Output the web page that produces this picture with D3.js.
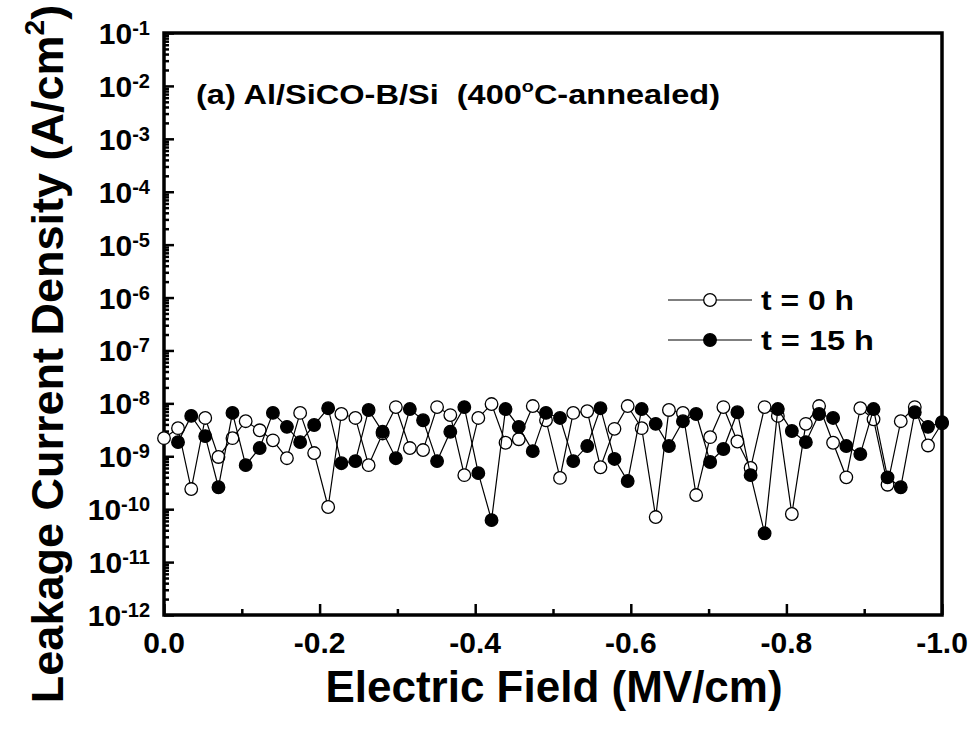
<!DOCTYPE html>
<html>
<head>
<meta charset="utf-8">
<script src="https://cdn.jsdelivr.net/npm/d3@7"></script>
<style>
  body { margin: 0; background: #fff; }
  svg { display: block; font-family: "Liberation Sans", Arial, sans-serif; font-weight: bold; }
</style>
</head>
<body>
<svg id="chart" width="977" height="731"></svg>
<script>
// Electric field (MV/cm) of each measurement step
const fields = [0, -0.018, -0.035, -0.053, -0.070, -0.088, -0.105, -0.123, -0.140, -0.158,
  -0.175, -0.193, -0.211, -0.228, -0.246, -0.263, -0.281, -0.298, -0.316, -0.333,
  -0.351, -0.368, -0.386, -0.404, -0.421, -0.439, -0.456, -0.474, -0.491, -0.509,
  -0.526, -0.544, -0.561, -0.579, -0.596, -0.614, -0.632, -0.649, -0.667, -0.684,
  -0.702, -0.719, -0.737, -0.754, -0.772, -0.789, -0.807, -0.825, -0.842, -0.860,
  -0.877, -0.895, -0.912, -0.930, -0.947, -0.965, -0.982, -1.000];

// Leakage current density (A/cm^2), t = 0 h
const jInitial = [2.2e-9, 3.4e-9, 2.4e-10, 5.3e-9, 9.7e-10, 2.2e-9, 4.6e-9, 3.1e-9, 2.0e-9, 9.2e-10,
  6.6e-9, 1.15e-9, 1.1e-10, 6.3e-9, 5.3e-9, 6.8e-10, 2.7e-9, 8.5e-9, 1.43e-9, 1.31e-9,
  8.5e-9, 6.0e-9, 4.4e-10, 5.3e-9, 9.7e-9, 1.8e-9, 2.1e-9, 8.9e-9, 4.8e-9, 3.9e-10,
  6.6e-9, 7.1e-9, 6.2e-10, 3.3e-9, 8.9e-9, 3.4e-9, 7.1e-11, 7.5e-9, 6.6e-9, 1.85e-10,
  2.3e-9, 8.5e-9, 1.9e-9, 6.0e-10, 8.5e-9, 5.8e-9, 8.1e-11, 4.1e-9, 8.9e-9, 1.8e-9,
  4.0e-10, 8.1e-9, 5.0e-9, 2.9e-10, 4.6e-9, 8.5e-9, 1.6e-9, 4.2e-9];

// Leakage current density (A/cm^2), t = 15 h (no reading at 0 MV/cm)
const jAged = [null, 1.85e-9, 5.8e-9, 2.4e-9, 2.6e-10, 6.6e-9, 6.8e-10, 1.43e-9, 6.6e-9, 3.6e-9,
  1.85e-9, 3.9e-9, 8.1e-9, 7.4e-10, 8.1e-10, 7.5e-9, 2.9e-9, 9.2e-10, 7.8e-9, 4.8e-9,
  8.1e-10, 2.9e-9, 8.5e-9, 4.8e-10, 6.2e-11, 7.8e-9, 3.6e-9, 1.25e-9, 6.6e-9, 5.3e-9,
  8.1e-10, 1.56e-9, 8.1e-9, 8.9e-10, 3.4e-10, 7.8e-9, 4.1e-9, 1.56e-9, 4.6e-9, 6.3e-9,
  7.8e-10, 1.37e-9, 6.8e-9, 4.4e-10, 3.5e-11, 7.8e-9, 3.0e-9, 1.85e-9, 6.3e-9, 5.3e-9,
  1.56e-9, 1.1e-9, 7.8e-9, 4.0e-10, 2.6e-10, 6.8e-9, 3.6e-9, 4.4e-9];

const seriesNames = ["t = 0 h", "t = 15 h"];
const yExponents = [-1, -2, -3, -4, -5, -6, -7, -8, -9, -10, -11, -12];
const xMajorTicks = [0, -0.2, -0.4, -0.6, -0.8, -1.0];
const xMajorLabels = ["0.0", "-0.2", "-0.4", "-0.6", "-0.8", "-1.0"];
const xMinorTicks = [-0.1, -0.3, -0.5, -0.7, -0.9];

const svg = d3.select("#chart");
const plotL = 164, plotR = 942, plotT = 33, plotB = 615;

const x = d3.scaleLinear().domain([0, -1]).range([plotL, plotR]);
const y = d3.scaleLog().domain([1e-12, 1e-1]).range([plotB, plotT]);

// Y axis: inward major ticks at each decade, minor ticks at 2..9
const yMajor = yExponents.map(e => Math.pow(10, e));
const yMinor = [];
yExponents.slice(1).forEach(e => { for (let m = 2; m <= 9; m++) yMinor.push(m * Math.pow(10, e)); });

svg.append("g").attr("transform", `translate(${plotL},0)`)
  .call(d3.axisLeft(y).tickValues(yMinor).tickSize(-5).tickFormat(""))
  .call(g => g.select(".domain").remove())
  .call(g => g.selectAll("line").attr("stroke", "#000").attr("stroke-width", 2.5));
svg.append("g").attr("transform", `translate(${plotL},0)`)
  .call(d3.axisLeft(y).tickValues(yMajor).tickSize(-10).tickFormat(""))
  .call(g => g.select(".domain").remove())
  .call(g => g.selectAll("line").attr("stroke", "#000").attr("stroke-width", 2.5));

// Y tick labels: 10 with superscript exponent
const yLab = svg.append("g");
yExponents.forEach(e => {
  const t = yLab.append("text")
    .attr("x", 150).attr("y", y(Math.pow(10, e)) + 11)
    .attr("text-anchor", "end").attr("font-size", 30);
  t.append("tspan").text("10");
  t.append("tspan").attr("font-size", 20).attr("dy", -9).text(String(e));
});

// X axis ticks (inward) and labels
svg.append("g").attr("transform", `translate(0,${plotB})`)
  .call(d3.axisBottom(x).tickValues(xMinorTicks).tickSize(-6).tickFormat(""))
  .call(g => g.select(".domain").remove())
  .call(g => g.selectAll("line").attr("stroke", "#000").attr("stroke-width", 2.5));
svg.append("g").attr("transform", `translate(0,${plotB})`)
  .call(d3.axisBottom(x).tickValues(xMajorTicks).tickSize(-11).tickFormat(""))
  .call(g => g.select(".domain").remove())
  .call(g => g.selectAll("line").attr("stroke", "#000").attr("stroke-width", 2.5));
svg.append("g").selectAll("text").data(xMajorTicks).join("text")
  .attr("x", d => x(d)).attr("y", plotB + 38)
  .attr("text-anchor", "middle").attr("font-size", 30)
  .text((d, i) => xMajorLabels[i]);

// Frame
svg.append("rect").attr("x", plotL).attr("y", plotT)
  .attr("width", plotR - plotL).attr("height", plotB - plotT)
  .attr("fill", "none").attr("stroke", "#000").attr("stroke-width", 3.5);

// Data series
const line = d3.line().defined(d => d[1] != null).x(d => x(d[0])).y(d => y(d[1]));
const sets = [
  { values: jInitial, fill: "#fff" },
  { values: jAged, fill: "#000" }
];
sets.forEach(s => {
  const pts = fields.map((f, i) => [f, s.values[i]]);
  svg.append("path").datum(pts).attr("d", line)
    .attr("fill", "none").attr("stroke", "#000").attr("stroke-width", 1.2);
  svg.append("g").selectAll("circle").data(pts.filter(p => p[1] != null)).join("circle")
    .attr("cx", p => x(p[0])).attr("cy", p => y(p[1])).attr("r", 6.3)
    .attr("fill", s.fill).attr("stroke", "#000").attr("stroke-width", 1.3);
});

// Legend
const legY = [300, 340];
const legWidths = [93, 113];
sets.forEach((s, i) => {
  const g = svg.append("g");
  g.append("line").attr("x1", 668).attr("x2", 752).attr("y1", legY[i]).attr("y2", legY[i])
    .attr("stroke", "#000").attr("stroke-width", 1.2);
  g.append("circle").attr("cx", 710).attr("cy", legY[i]).attr("r", 6.3)
    .attr("fill", s.fill).attr("stroke", "#000").attr("stroke-width", 1.3);
  g.append("text").attr("x", 761).attr("y", legY[i] + 10).attr("font-size", 27)
    .attr("textLength", legWidths[i]).attr("lengthAdjust", "spacingAndGlyphs")
    .style("white-space", "pre").text(seriesNames[i]);
});

// Sample annotation
const ann = svg.append("text").attr("x", 196).attr("y", 104).attr("font-size", 28)
  .attr("textLength", 524).attr("lengthAdjust", "spacingAndGlyphs")
  .style("white-space", "pre");
ann.append("tspan").text("(a) Al/SiCO-B/Si  (400");
ann.append("tspan").attr("font-size", 17).attr("dy", -12).text("o");
ann.append("tspan").attr("dy", 12).text("C-annealed)");

// Axis titles
svg.append("text").attr("x", 554).attr("y", 702).attr("text-anchor", "middle")
  .attr("font-size", 44).text("Electric Field (MV/cm)");
const yt = svg.append("text")
  .attr("transform", "translate(63,354) rotate(-90)")
  .attr("text-anchor", "middle").attr("font-size", 45);
yt.append("tspan").text("Leakage Current Density (A/cm");
yt.append("tspan").attr("font-size", 28).attr("dy", -19).text("2");
yt.append("tspan").attr("dy", 19).text(")");
</script>
</body>
</html>
